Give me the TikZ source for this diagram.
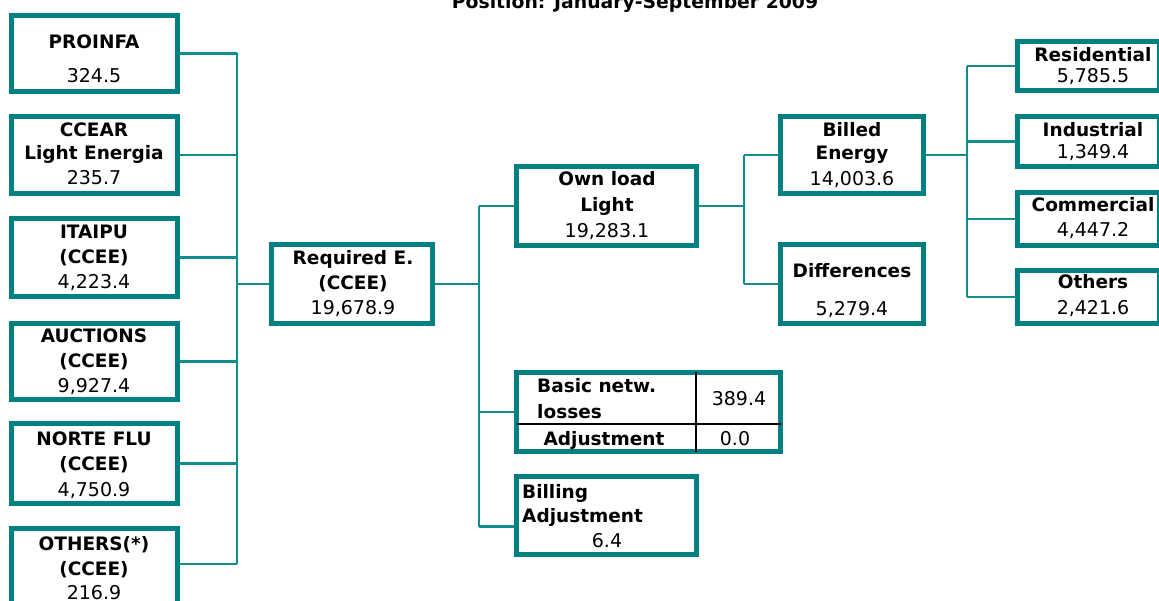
\documentclass[tikz,border=0pt]{standalone}
\usepackage{fontspec}
\setmainfont{DejaVu Sans}
\definecolor{tealb}{HTML}{008080}
\definecolor{tealc}{HTML}{128C8C}
\tikzset{
  box/.style={draw=tealb, line width=5.5pt, rectangle, inner sep=0pt, fill=white},
  conn/.style={draw=tealc, line width=2.1pt},
  lbl/.style={anchor=base, inner sep=0pt, font=\fontsize{18.5}{22}\selectfont\bfseries},
  lbll/.style={lbl, anchor=base west},
  num/.style={anchor=base, inner sep=0pt, font=\fontsize{19}{22}\selectfont},
  divl/.style={draw=black, line width=1.3pt},
}
\begin{document}
\begin{tikzpicture}[x=1pt,y=-1pt]
\useasboundingbox (0,0) rectangle (1159,601);

% title (clipped at top)
\node[lbl, font=\fontsize{18.8}{22}\selectfont\bfseries] (title) at (635,9) {Position: January-September 2009};

% ---------- left column ----------
\node[box, minimum width=166pt, minimum height=76pt] (proinfa) at (94.5,53.5) {};
\node[box, minimum width=166pt, minimum height=77pt] (ccear) at (94.5,155) {};
\node[box, minimum width=166pt, minimum height=78pt] (itaipu) at (94.5,257.5) {};
\node[box, minimum width=166pt, minimum height=76pt] (auctions) at (94.5,361.5) {};
\node[box, minimum width=166pt, minimum height=80pt] (norte) at (94.5,463.5) {};
\node[box, minimum width=166pt, minimum height=81pt] (othersL) at (94.5,569) {};

\node[lbl] (t1a) at (94,49) {PROINFA};
\node[num] (t1b) at (94,83) {324.5};
\node[lbl] (t2a) at (94,137) {CCEAR};
\node[lbl] (t2b) at (94,160) {Light Energia};
\node[num] (t2c) at (94,185) {235.7};
\node[lbl] (t3a) at (94,239) {ITAIPU};
\node[lbl] (t3b) at (94,264) {(CCEE)};
\node[num] (t3c) at (94,289) {4,223.4};
\node[lbl] (t4a) at (94,343) {AUCTIONS};
\node[lbl] (t4b) at (94,367) {(CCEE)};
\node[num] (t4c) at (94,392) {9,927.4};
\node[lbl] (t5a) at (94,445) {NORTE FLU};
\node[lbl] (t5b) at (94,470) {(CCEE)};
\node[num] (t5c) at (94,496) {4,750.9};
\node[lbl] (t6a) at (94,550) {OTHERS(*)};
\node[lbl] (t6b) at (94,575) {(CCEE)};
\node[num] (t6c) at (94,599) {216.9};

% ---------- required ----------
\node[box, minimum width=161pt, minimum height=79pt] (required) at (352,284) {};
\node[lbl] (t7a) at (353,265) {Required E.};
\node[lbl] (t7b) at (353,290) {(CCEE)};
\node[num] (t7c) at (353,315) {19,678.9};

% ---------- middle column ----------
\node[box, minimum width=180pt, minimum height=79pt] (ownload) at (606.5,206) {};
\node[lbl] (t8a) at (607,186) {Own load};
\node[lbl] (t8b) at (607,212) {Light};
\node[num] (t8c) at (607,238) {19,283.1};

\node[box, minimum width=264pt, minimum height=79pt] (basic) at (648.5,412) {};
\draw[divl] (696,372.5) -- (696,451.5);
\draw[divl] (516.5,424) -- (780.5,424);
\node[lbll] (t9a) at (537,392) {Basic netw.};
\node[lbll] (t9b) at (537,418) {losses};
\node[lbl] (t9c) at (604,445) {Adjustment};
\node[num] (t9d) at (739,405) {389.4};
\node[num] (t9e) at (735,445) {0.0};

\node[box, minimum width=180pt, minimum height=78pt] (billing) at (606.5,515.5) {};
\node[lbll] (t10a) at (522,498) {Billing};
\node[lbll] (t10b) at (522,522) {Adjustment};
\node[num] (t10c) at (607,547) {6.4};

% ---------- billed / differences ----------
\node[box, minimum width=143pt, minimum height=77pt] (billed) at (852,155) {};
\node[lbl] (t11a) at (852,137) {Billed};
\node[lbl] (t11b) at (852,160) {Energy};
\node[num] (t11c) at (852,186) {14,003.6};

\node[box, minimum width=143pt, minimum height=79pt] (diff) at (852,284) {};
\node[lbl] (t12a) at (852,278) {Differences};
\node[num] (t12b) at (852,316) {5,279.4};

% ---------- right column ----------
\node[box, minimum width=142pt, minimum height=49pt] (resid) at (1088.5,66) {};
\node[box, minimum width=142pt, minimum height=50pt] (indus) at (1088.5,141.5) {};
\node[box, minimum width=142pt, minimum height=53pt] (comm) at (1088.5,219) {};
\node[box, minimum width=142pt, minimum height=53pt] (othersR) at (1088.5,297) {};
\node[lbl] (t13a) at (1093,62) {Residential};
\node[num] (t13b) at (1093,83) {5,785.5};
\node[lbl] (t14a) at (1093,137) {Industrial};
\node[num] (t14b) at (1093,159) {1,349.4};
\node[lbl] (t15a) at (1093,212) {Commercial};
\node[num] (t15b) at (1093,237) {4,447.2};
\node[lbl] (t16a) at (1093,289) {Others};
\node[num] (t16b) at (1093,315) {2,421.6};

% ---------- connectors ----------
\coordinate (busL) at (237,0);
\coordinate (othL) at ([yshift=5pt]othersL.east);
\foreach \n in {proinfa,ccear,itaipu,auctions,norte}
  \draw[conn] (\n.east) -- (\n.east -| busL);
\draw[conn] (othL) -- (othL -| busL);
\draw[conn] (proinfa.east -| busL) -- (othL -| busL);
\draw[conn] (busL |- required.west) -- (required.west);

\coordinate (busM) at (479,0);
\coordinate (bil) at ([yshift=-11pt]billing.west);
\draw[conn] (required.east) -- (required.east -| busM);
\draw[conn] (busM |- ownload.west) -- (busM |- bil);
\draw[conn] (busM |- ownload.west) -- (ownload.west);
\draw[conn] (busM |- basic.west) -- (basic.west);
\draw[conn] (busM |- bil) -- (bil);

\coordinate (busR) at (744,0);
\draw[conn] (ownload.east) -- (ownload.east -| busR);
\draw[conn] (busR |- billed.west) -- (busR |- diff.west);
\draw[conn] (busR |- billed.west) -- (billed.west);
\draw[conn] (busR |- diff.west) -- (diff.west);

\coordinate (busX) at (967,0);
\draw[conn] (billed.east) -- (billed.east -| busX);
\draw[conn] (busX |- resid.west) -- (busX |- othersR.west);
\foreach \n in {resid,indus,comm,othersR}
  \draw[conn] (busX |- \n.west) -- (\n.west);
\end{tikzpicture}
\end{document}
